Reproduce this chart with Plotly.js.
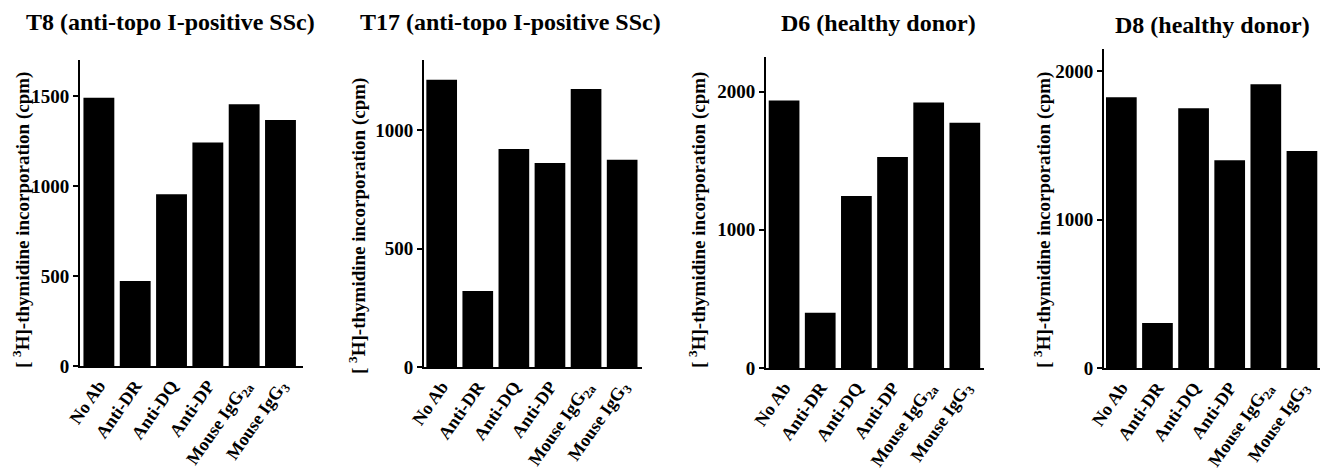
<!DOCTYPE html>
<html>
<head>
<meta charset="utf-8">
<script src="https://cdn.plot.ly/plotly-3.0.1.min.js"></script>
<style>html,body{margin:0;padding:0;background:#fff;}#chart{width:1322px;height:471px;}</style>
</head>
<body>
<div id="chart"></div>
<script>
// ---- data ----
const categories = ["No Ab", "Anti-DR", "Anti-DQ", "Anti-DP", "Mouse IgG2a", "Mouse IgG3"];
const tickLabels = ["No Ab", "Anti-DR", "Anti-DQ", "Anti-DP", "Mouse IgG<sub>2a</sub>", "Mouse IgG<sub>3</sub>"];
const panelTitles = ["T8 (anti-topo I-positive SSc)", "T17 (anti-topo I-positive SSc)", "D6 (healthy donor)", "D8 (healthy donor)"];
const yTitle = "[ <sup>3</sup>H]-thymidine incorporation (cpm)";
const t8 = [1490, 472, 954, 1241, 1454, 1367];
const t17 = [1214, 321, 921, 862, 1174, 876];
const d6 = [1935, 399, 1244, 1527, 1920, 1775];
const d8 = [1825, 303, 1751, 1400, 1912, 1463];
const yTicks1 = [0, 500, 1000, 1500];
const yTicks2 = [0, 500, 1000];
const yTicks3 = [0, 1000, 2000];
const yTicks4 = [0, 1000, 2000];

const series = [t8, t17, d6, d8];
const yTickSets = [yTicks1, yTicks2, yTicks3, yTicks4];

// ---- layout geometry (pixels) ----
const W = 1322, H = 471;
const panels = [
  {x0: 80, x1: 303, top: 60, base: 366, ymax: 1700, xr: [-0.52, 5.62], tx: 170, ty: 22, yx: 21, yy: 220},
  {x0: 424, x1: 642, top: 60, base: 367, ymax: 1297, xr: [-0.49, 5.55], tx: 510, ty: 22, yx: 357, yy: 226},
  {x0: 766, x1: 984, top: 57, base: 368, ymax: 2250, xr: [-0.5, 5.53], tx: 878, ty: 23, yx: 697, yy: 220},
  {x0: 1104, x1: 1320, top: 49, base: 368, ymax: 2150, xr: [-0.48, 5.5], tx: 1212, ty: 25, yx: 1042, yy: 220}
];

const fontFam = "Liberation Serif, Times New Roman, serif";
const traces = [];
const layout = {
  width: W, height: H,
  margin: {l: 0, r: 0, t: 0, b: 0},
  paper_bgcolor: "#fff", plot_bgcolor: "#fff",
  showlegend: false,
  bargap: 0.15,
  font: {family: fontFam, color: "#000", weight: 700},
  annotations: []
};

panels.forEach((p, i) => {
  const n = i + 1;
  const xa = "x" + (n === 1 ? "" : n), ya = "y" + (n === 1 ? "" : n);
  traces.push({
    type: "bar", x: categories, y: series[i], xaxis: xa, yaxis: ya,
    marker: {color: "#000", line: {width: 0}}, hoverinfo: "x+y"
  });
  const xk = "xaxis" + (n === 1 ? "" : n), yk = "yaxis" + (n === 1 ? "" : n);
  layout[xk] = {
    domain: [p.x0 / W, p.x1 / W], anchor: ya,
    type: "category", categoryorder: "array", categoryarray: categories,
    range: p.xr,
    tickvals: categories, ticktext: tickLabels, tickangle: -55,
    ticks: "", showgrid: false, zeroline: false,
    showline: true, linecolor: "#000", linewidth: 2,
    tickfont: {family: fontFam, size: 18, color: "#000", weight: 700},
    automargin: false, fixedrange: true
  };
  layout[yk] = {
    domain: [(H - p.base) / H, (H - p.top) / H], anchor: xa,
    range: [0, p.ymax], tickvals: yTickSets[i],
    ticks: "outside", ticklen: 5, tickwidth: 2, tickcolor: "#000",
    showgrid: false, zeroline: false,
    showline: true, linecolor: "#000", linewidth: 2,
    tickfont: {family: fontFam, size: 19, color: "#000", weight: 700},
    automargin: false, fixedrange: true
  };
  layout.annotations.push({
    text: panelTitles[i], xref: "paper", yref: "paper",
    x: p.tx / W, y: (H - p.ty) / H, xanchor: "center", yanchor: "middle",
    showarrow: false, font: {family: fontFam, size: 24, color: "#000", weight: 700}
  });
  layout.annotations.push({
    text: yTitle, xref: "paper", yref: "paper", textangle: -90,
    x: p.yx / W, y: (H - p.yy) / H, xanchor: "center", yanchor: "middle",
    showarrow: false, font: {family: fontFam, size: 19, color: "#000", weight: 700}
  });
});

Plotly.newPlot("chart", traces, layout, {displayModeBar: false, staticPlot: true});
</script>
</body>
</html>
